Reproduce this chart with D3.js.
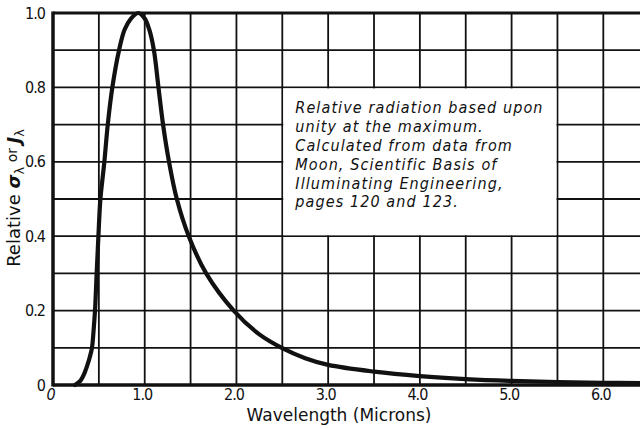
<!DOCTYPE html>
<html>
<head>
<meta charset="utf-8">
<script src="https://cdn.jsdelivr.net/npm/d3@7"></script>
<style>
  html, body { margin: 0; padding: 0; background: #fff; }
  svg { display: block; }
  text { fill: #111; }
</style>
</head>
<body>
<svg id="chart" width="640" height="429"></svg>
<script>
// ---- data ----
const wavelength = [0.24, 0.30, 0.34, 0.37, 0.40, 0.425, 0.442, 0.458, 0.476, 0.495, 0.517, 0.56, 0.597, 0.647, 0.72, 0.78, 0.85, 0.93, 1.0, 1.05, 1.10, 1.15, 1.20, 1.265, 1.35, 1.48, 1.67, 1.97, 2.25, 2.5, 2.75, 3.0, 3.5, 4.0, 4.5, 5.0, 5.5, 6.0, 6.4];
const relative   = [0.0, 0.012, 0.03, 0.05, 0.074, 0.1, 0.145, 0.2, 0.3, 0.4, 0.5, 0.6, 0.7, 0.8, 0.9, 0.955, 0.985, 1.0, 0.985, 0.955, 0.9, 0.8, 0.7, 0.6, 0.5, 0.4, 0.3, 0.2, 0.136, 0.099, 0.072, 0.054, 0.036, 0.024, 0.016, 0.011, 0.008, 0.006, 0.005];
const xTickValues = [0, 1, 2, 3, 4, 5, 6];
const xTickLabels = ["0", "1.0", "2.0", "3.0", "4.0", "5.0", "6.0"];
const yTickValues = [0, 0.2, 0.4, 0.6, 0.8, 1.0];
const yTickLabels = ["0", "0.2", "0.4", "0.6", "0.8", "1.0"];
const xGrid = [0.5, 1, 1.5, 2, 2.5, 3, 3.5, 4, 4.5, 5, 5.5, 6];
const yGrid = [0.1, 0.2, 0.3, 0.4, 0.5, 0.6, 0.7, 0.8, 0.9];
const noteBox = { x0: 2.5, x1: 5.5, y0: 0.4, y1: 0.8 };
const noteLines = [
  "Relative radiation based upon",
  "unity at the maximum.",
  "Calculated from data from",
  "Moon, Scientific Basis of",
  "Illuminating Engineering,",
  "pages 120 and 123."
];
const xTitle = "Wavelength (Microns)";

// ---- layout ----
const svg = d3.select("#chart");
const pLeft = 53, pRight = 640, pTop = 13, pBottom = 385;
const x = d3.scaleLinear().domain([0, 6.4]).range([pLeft, pRight]);
const y = d3.scaleLinear().domain([0, 1]).range([pBottom, pTop]);
const font = "'DejaVu Sans', 'Liberation Sans', sans-serif";
const condFont = "'DejaVu Sans Condensed', 'DejaVu Sans', sans-serif";

// grid
const g = svg.append("g");
g.selectAll("line.vg").data(xGrid).join("line")
  .attr("x1", d => x(d)).attr("x2", d => x(d))
  .attr("y1", pTop).attr("y2", pBottom)
  .attr("stroke", "#111").attr("stroke-width", 1.8);
g.selectAll("line.hg").data(yGrid).join("line")
  .attr("x1", pLeft).attr("x2", pRight)
  .attr("y1", d => y(d)).attr("y2", d => y(d))
  .attr("stroke", "#111").attr("stroke-width", 1.8);

// note box (erases grid inside)
svg.append("rect")
  .attr("x", x(noteBox.x0) + 1).attr("y", y(noteBox.y1) + 1)
  .attr("width", x(noteBox.x1) - x(noteBox.x0) - 2)
  .attr("height", y(noteBox.y0) - y(noteBox.y1) - 2)
  .attr("fill", "#fff");

// borders
svg.append("line").attr("x1", pLeft).attr("x2", pRight).attr("y1", pTop).attr("y2", pTop)
  .attr("stroke", "#111").attr("stroke-width", 3);
svg.append("line").attr("x1", pLeft).attr("x2", pRight).attr("y1", pBottom).attr("y2", pBottom)
  .attr("stroke", "#111").attr("stroke-width", 3.5);
svg.append("line").attr("x1", pLeft).attr("x2", pLeft).attr("y1", pTop - 1.5).attr("y2", pBottom + 1.5)
  .attr("stroke", "#111").attr("stroke-width", 3.5);

// curve
const line = d3.line().x((d, i) => x(wavelength[i])).y(d => y(d)).curve(d3.curveCatmullRom.alpha(0.5));
svg.append("path").datum(relative)
  .attr("d", line)
  .attr("fill", "none").attr("stroke", "#111").attr("stroke-width", 4.2)
  .attr("stroke-linejoin", "round").attr("stroke-linecap", "round");

// axes (labels only)
const xAxis = d3.axisBottom(x).tickValues(xTickValues)
  .tickFormat((d, i) => xTickLabels[i]).tickSize(0).tickPadding(4);
const xa = svg.append("g").attr("transform", `translate(-3,${pBottom})`).call(xAxis);
xa.select(".domain").remove();
xa.selectAll("text").attr("font-family", condFont).attr("font-size", 16)
  .attr("letter-spacing", -1).attr("fill", "#111")
  .attr("font-style", (d, i) => i === 0 ? "italic" : "normal");

const yAxis = d3.axisLeft(y).tickValues(yTickValues)
  .tickFormat((d, i) => yTickLabels[i]).tickSize(0).tickPadding(8);
const ya = svg.append("g").attr("transform", `translate(${pLeft},0)`).call(yAxis);
ya.select(".domain").remove();
ya.selectAll("text").attr("font-family", condFont).attr("font-size", 16)
  .attr("letter-spacing", -1).attr("fill", "#111");

// x title
svg.append("text").attr("x", 339).attr("y", 421)
  .attr("text-anchor", "middle").attr("font-family", font).attr("font-size", 17)
  .text(xTitle);

// y title
const yt = svg.append("text")
  .attr("transform", "translate(20,198) rotate(-90)")
  .attr("text-anchor", "middle").attr("font-family", font).attr("font-size", 18);
yt.append("tspan").text("Relative ");
yt.append("tspan").attr("font-style", "italic").attr("font-weight", "bold").text("σ");
yt.append("tspan").attr("font-size", 13).attr("dy", 4).text("λ");
yt.append("tspan").attr("font-size", 14).attr("dy", -7).text(" or ");
yt.append("tspan").attr("font-style", "italic").attr("font-weight", "bold").attr("dy", 3).text("J");
yt.append("tspan").attr("font-size", 13).attr("dy", 4).text("λ");

// note text
const nt = svg.append("g").attr("font-family", condFont).attr("font-size", 16)
  .attr("font-style", "italic").attr("letter-spacing", 1.1);
nt.selectAll("text").data(noteLines).join("text")
  .attr("x", x(noteBox.x0) + 13)
  .attr("y", (d, i) => y(noteBox.y1) + 26 + i * 18.8)
  .text(d => d);
</script>
</body>
</html>
